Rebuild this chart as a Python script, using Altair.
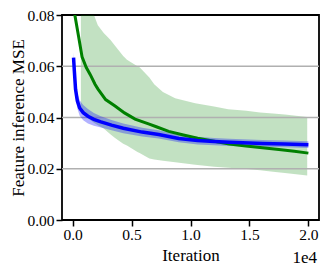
import altair as alt
import pandas as pd

# ---- data ----
green_iter = [0, 190, 500, 800, 1150, 1500, 1900, 2140, 2800, 3600, 4400, 5300, 6500, 7100,
              8150, 9400, 10600, 12000, 13300, 14700, 16100, 17500, 18800, 20000]
green_mean = [0.092, 0.080, 0.0718, 0.0637, 0.0596, 0.0567, 0.0530, 0.0512, 0.0470, 0.0445,
              0.0418, 0.0394, 0.0374, 0.0364, 0.0346, 0.0332, 0.0319, 0.0307, 0.0297, 0.0289,
              0.0282, 0.0275, 0.0268, 0.0261]

gband_iter = [700, 1500, 1810, 2140, 2640, 3200, 3600, 4290, 4610, 5500, 5680, 6510, 6920, 7660,
              8700, 10400, 12000, 13200, 14740, 15900, 17000, 18000, 19900]
gband_low = [0.0420, 0.0390, 0.0380, 0.0370, 0.0357, 0.0335, 0.0320, 0.0298, 0.0291, 0.0265,
             0.0261, 0.0240, 0.0236, 0.0231, 0.0225, 0.0216, 0.0208, 0.0204, 0.0199, 0.0194,
             0.0188, 0.0183, 0.0174]
gband_high = [0.1200, 0.0850, 0.0800, 0.0760, 0.0730, 0.0703, 0.0680, 0.0640, 0.0625, 0.0600,
              0.0596, 0.0556, 0.0530, 0.0500, 0.0475, 0.0456, 0.0443, 0.0432, 0.0426, 0.0420,
              0.0416, 0.0412, 0.0402]

blue_iter = [80, 150, 250, 400, 600, 900, 1300, 1800, 2400, 3300, 4300, 5900, 7300, 9000,
             10600, 12000, 13300, 16100, 18000, 20000]
blue_mean = [0.0634, 0.0580, 0.0510, 0.0465, 0.0437, 0.0419, 0.0405, 0.0393, 0.0383, 0.0370,
             0.0358, 0.0343, 0.0334, 0.0318, 0.0310, 0.0306, 0.0303, 0.0299, 0.0297, 0.0294]
blue_half = [0.0020, 0.0025, 0.0030, 0.0030, 0.0030, 0.0030, 0.0028, 0.0025, 0.0022, 0.0020,
             0.0019, 0.0017, 0.0016, 0.0015, 0.0015, 0.0014, 0.0014, 0.0013, 0.0013, 0.0013]

grid_vals = [0.02, 0.04, 0.06]
x_ticks = [0, 5000, 10000, 15000, 20000]
y_ticks = [0.0, 0.02, 0.04, 0.06, 0.08]

FONT = "Liberation Serif"
LABEL_SIZE = 15.5
TITLE_SIZE = 17

green_df = pd.DataFrame({"iter": green_iter, "v": green_mean})
gband_df = pd.DataFrame({"iter": gband_iter, "lo": gband_low, "hi": gband_high})
blue_df = pd.DataFrame({"iter": blue_iter, "v": blue_mean,
                        "lo": [m - h for m, h in zip(blue_mean, blue_half)],
                        "hi": [m + h for m, h in zip(blue_mean, blue_half)]})
grid_df = pd.DataFrame({"g": grid_vals})
note_df = pd.DataFrame({"t": ["1e4"]})

W, H = 257, 205

xscale = alt.Scale(domain=[-900, 20900], nice=False, zero=False)
yscale = alt.Scale(domain=[0, 0.08], nice=False, zero=False)

xaxis = alt.Axis(values=x_ticks, labelExpr="format(datum.value/10000, '.1f')", title="Iteration",
                 grid=False, domain=False, tickSize=6, tickWidth=1.5, tickColor="black",
                 labelFont=FONT, labelFontSize=LABEL_SIZE, labelColor="black", labelPadding=1,
                 titleFont=FONT, titleFontSize=TITLE_SIZE, titleFontWeight="normal",
                 titleColor="black", titleY=40, titleBaseline="alphabetic")
yaxis = alt.Axis(values=y_ticks, format=".2f", title="Feature inference MSE",
                 grid=False, domain=False, tickSize=6, tickWidth=1.5, tickColor="black",
                 labelFont=FONT, labelFontSize=LABEL_SIZE, labelColor="black", labelPadding=2,
                 titleFont=FONT, titleFontSize=TITLE_SIZE, titleFontWeight="normal",
                 titleColor="black", titleX=-39, titleY=H / 2, titleAngle=270,
                 titleAlign="center", titleBaseline="alphabetic")

X = lambda f: alt.X(f, type="quantitative", scale=xscale, axis=xaxis)
Y = lambda f: alt.Y(f, type="quantitative", scale=yscale, axis=yaxis)

gband = alt.Chart(gband_df).mark_area(color="#008000", opacity=0.24, clip=True).encode(
    x=X("iter"), y=Y("lo"), y2="hi")
bband = alt.Chart(blue_df).mark_area(color="#0000ff", opacity=0.3, clip=True).encode(
    x=X("iter"), y=Y("lo"), y2="hi")
grid = alt.Chart(grid_df).mark_rule(color="#b0b0b0", strokeWidth=1.5).encode(y=Y("g"))
gline = alt.Chart(green_df).mark_line(color="#008000", strokeWidth=3, clip=True).encode(
    x=X("iter"), y=Y("v"))
bline = alt.Chart(blue_df).mark_line(color="#0000ff", strokeWidth=3.5, clip=True).encode(
    x=X("iter"), y=Y("v"))
note = alt.Chart(note_df).mark_text(font=FONT, fontSize=TITLE_SIZE, align="right",
                                    baseline="alphabetic", color="black").encode(
    text="t:N", x=alt.value(W - 2), y=alt.value(248))

chart = alt.layer(gband, grid, bband, gline, bline, note).properties(
    width=W, height=H,
    autosize=alt.AutoSizeParams(type="none"),
    padding={"left": 54, "top": 7, "right": 1, "bottom": 48},
    background="white",
).configure_view(stroke="black", strokeWidth=1.8)

chart.save("out.html", embed_options={"renderer": "svg", "actions": False})
